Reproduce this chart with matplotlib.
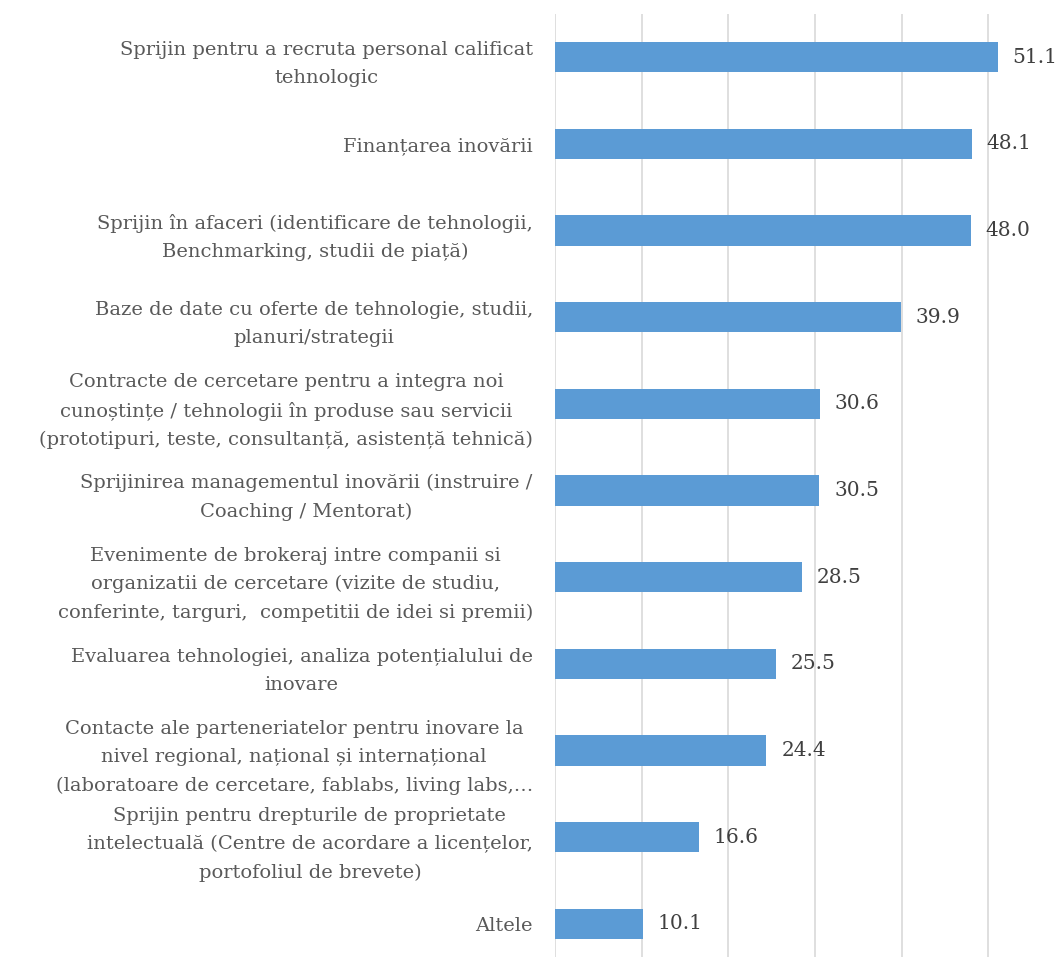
import matplotlib.pyplot as plt
import numpy as np

# categorii (de sus in jos)
categorii = [
    "Sprijin pentru a recruta personal calificat\ntehnologic",
    "Finanțarea inovării",
    "Sprijin în afaceri (identificare de tehnologii,\nBenchmarking, studii de piață)",
    "Baze de date cu oferte de tehnologie, studii,\nplanuri/strategii",
    "Contracte de cercetare pentru a integra noi\ncunoștințe / tehnologii în produse sau servicii\n(prototipuri, teste, consultanță, asistență tehnică)",
    "Sprijinirea managementul inovării (instruire /\nCoaching / Mentorat)",
    "Evenimente de brokeraj intre companii si\norganizatii de cercetare (vizite de studiu,\nconferinte, targuri,  competitii de idei si premii)",
    "Evaluarea tehnologiei, analiza potențialului de\ninovare",
    "Contacte ale parteneriatelor pentru inovare la\nnivel regional, național și internațional\n(laboratoare de cercetare, fablabs, living labs,…",
    "Sprijin pentru drepturile de proprietate\nintelectuală (Centre de acordare a licențelor,\nportofoliul de brevete)",
    "Altele",
]
valori = [51.1, 48.1, 48.0, 39.9, 30.6, 30.5, 28.5, 25.5, 24.4, 16.6, 10.1]

plt.rcParams['font.family'] = ['DejaVu Serif']

fig = plt.figure(figsize=(10.59, 9.57), dpi=100)
# axa incepe la x=555px, sus la 14px
ax = fig.add_axes([555 / 1059, -10 / 957, 1 - 555 / 1059, (957 - 14 + 10) / 957])

y = np.arange(len(categorii))
ax.barh(y, valori, height=0.35, color='#5B9BD5', zorder=3)

for yi, v in zip(y, valori):
    ax.text(v + 1.7, yi, f"{v:.1f}", va='center', ha='left',
            fontsize=14.5, color='#404040')

ax.set_yticks(y)
ax.set_yticklabels(categorii, fontsize=14, color='#595959', ha='right',
                   multialignment='center', linespacing=1.72)
ax.tick_params(axis='y', length=0, pad=16)
ax.set_ylim(len(categorii) - 0.5, -0.5)

ax.set_xlim(0, 58.15)
ax.set_xticks([0, 10, 20, 30, 40, 50])
ax.tick_params(axis='x', length=0, labelbottom=False)
ax.grid(axis='x', color='#D9D9D9', linewidth=1.2, zorder=0)
for s in ax.spines.values():
    s.set_visible(False)

fig.savefig('out.png', dpi=100)
